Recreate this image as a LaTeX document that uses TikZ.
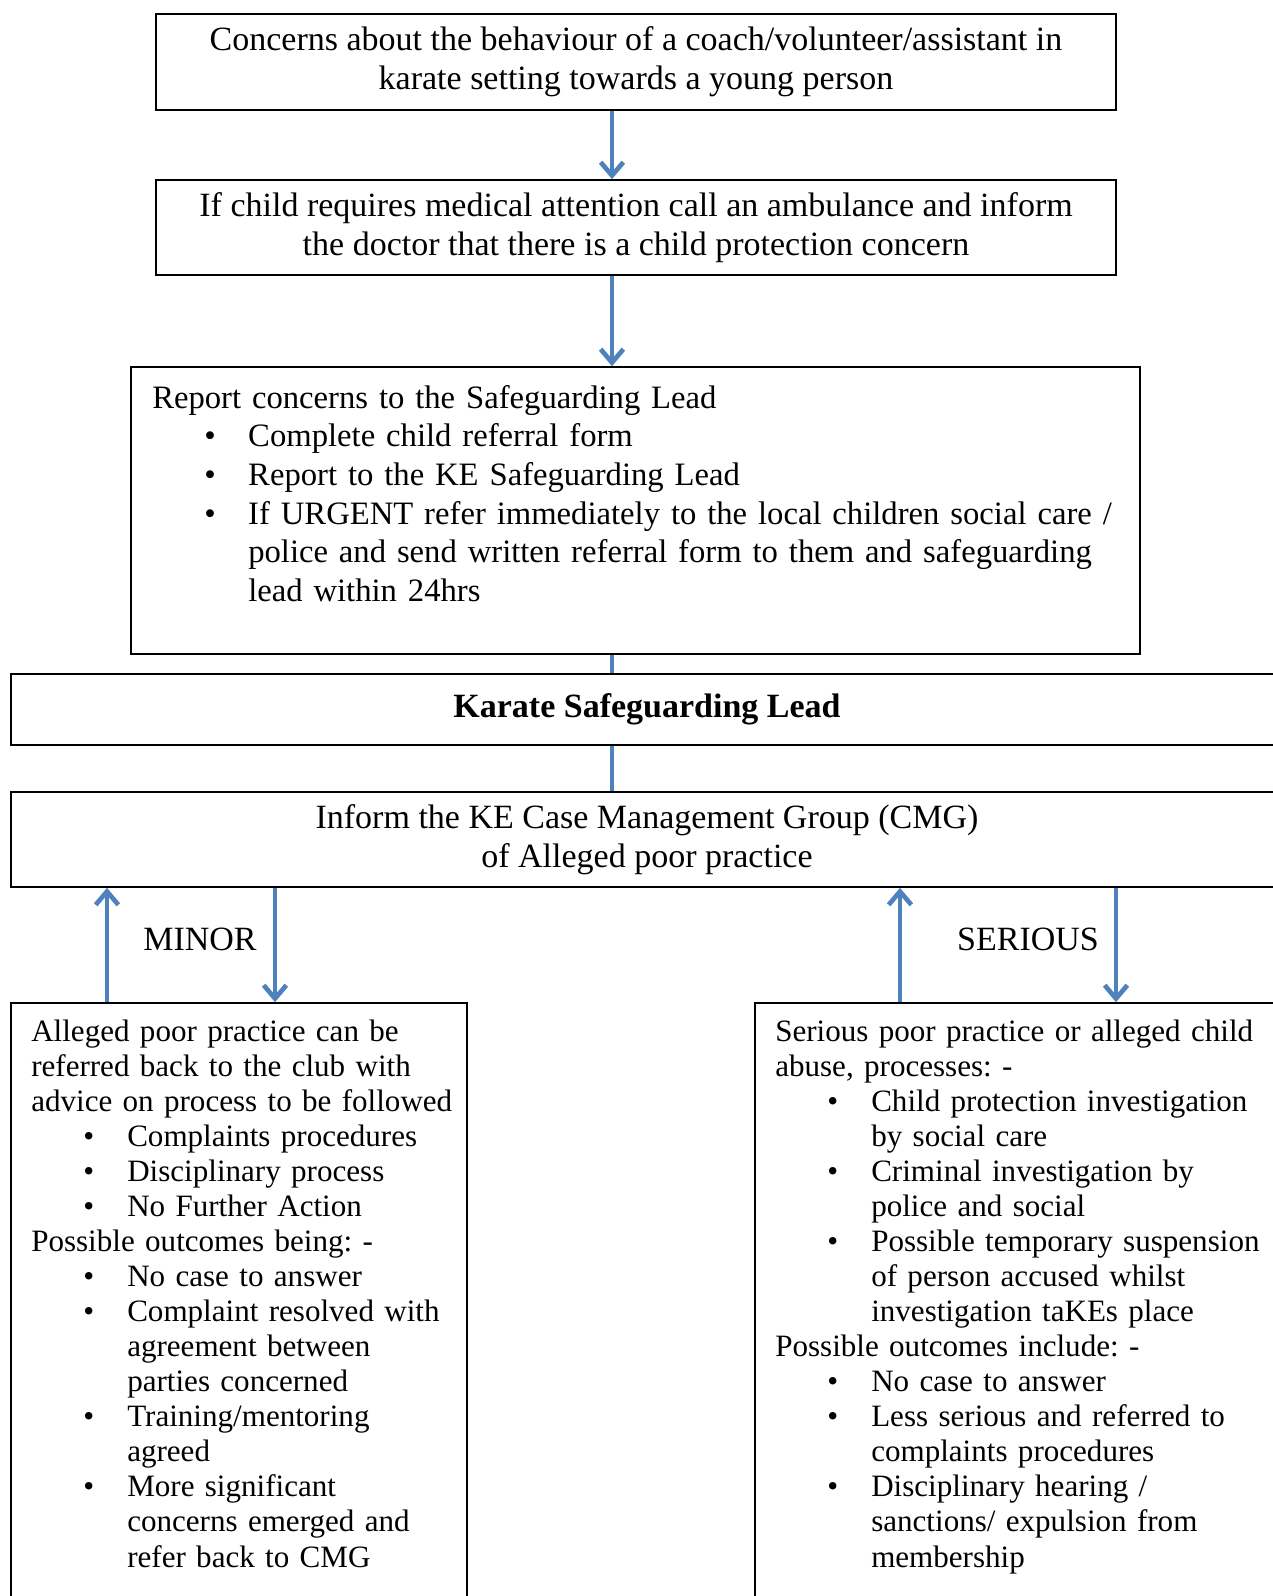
\documentclass[tikz,border=0pt]{standalone}
\usepackage{fontspec}
\setmainfont{Liberation Serif}
\usetikzlibrary{arrows.meta}
\definecolor{FlowBlue}{RGB}{79,129,189}
\frenchspacing
\newcommand{\mainsize}{\fontsize{25.5pt}{29pt}\selectfont}
\newcommand{\reportsize}{\fontsize{24.5pt}{29pt}\selectfont}
\newcommand{\listsize}{\fontsize{23.3pt}{26.3pt}\selectfont}
\newcommand{\bitem}[1]{\par\hangindent=72pt\hangafter=0\noindent\llap{\makebox[33pt][l]{\textbullet}}#1}

\begin{document}
\begin{tikzpicture}[x=0.75pt,y=-0.75pt,
  box/.style={rectangle,draw=black,line width=1.3pt,inner sep=0pt,align=center,font=\mainsize},
  txt/.style={inner sep=0pt,anchor=base west,align=left},
  flow/.style={draw=FlowBlue,line width=3.5pt,-{Straight Barb[length=10pt,width=17pt]}},
  link/.style={draw=FlowBlue,line width=3.5pt}
]
  \useasboundingbox[fill=white] (0,0) rectangle (1273,1596);
  % top of the flow
  \node[box,minimum width=720pt,minimum height=72pt] (concern) at (636,62)
    {Concerns about the behaviour of a coach/volunteer/assistant in\\karate setting towards a young person};
  \node[box,minimum width=720pt,minimum height=71.25pt] (medical) at (636,227.5)
    {If child requires medical attention call an ambulance and inform\\the doctor that there is a child protection concern};
  \node[box,minimum width=756.75pt,minimum height=215.25pt] (report) at (635.5,510.5) {};
  \node[txt,font=\reportsize,text width=760pt] (reporttext) at (152,408)
    {Report concerns to the Safeguarding Lead
     \bitem{Complete child referral form}
     \bitem{Report to the KE Safeguarding Lead}
     \bitem{If URGENT refer immediately to the local children social care /\newline
       police and send written referral form to them and safeguarding\newline
       lead within 24hrs}\par};
  \node[box,minimum width=954pt,minimum height=53.25pt] (ksl) at (647,709.5) {\textbf{Karate Safeguarding Lead}};
  \node[box,minimum width=954pt,minimum height=71.25pt] (cmg) at (647,839.5)
    {Inform the KE Case Management Group (CMG)\\of Alleged poor practice};
  % the two routes
  \node[box,minimum width=342pt,minimum height=477.75pt] (minor) at (239,1321.5) {};
  \node[box,minimum width=401.25pt,minimum height=477.75pt] (serious) at (1022.5,1321.5) {};
  \node[font=\mainsize,inner sep=0pt] (minorlbl) at (200,939) {MINOR};
  \node[font=\mainsize,inner sep=0pt] (seriouslbl) at (1028,939) {SERIOUS};
  \node[txt,font=\listsize,text width=330pt] (minortext) at (31,1041)
    {Alleged poor practice can be\newline
     referred back to the club with\newline
     advice on process to be followed
     \bitem{Complaints procedures}
     \bitem{Disciplinary process}
     \bitem{No Further Action}
     \par\noindent Possible outcomes being: -
     \bitem{No case to answer}
     \bitem{Complaint resolved with\newline agreement between\newline parties concerned}
     \bitem{Training/mentoring\newline agreed}
     \bitem{More significant\newline concerns emerged and\newline refer back to CMG}\par};
  \node[txt,font=\listsize,text width=380pt] (serioustext) at (775,1041)
    {Serious poor practice or alleged child\newline
     abuse, processes: -
     \bitem{Child protection investigation\newline by social care}
     \bitem{Criminal investigation by\newline police and social}
     \bitem{Possible temporary suspension\newline of person accused whilst\newline investigation taKEs place}
     \par\noindent Possible outcomes include: -
     \bitem{No case to answer}
     \bitem{Less serious and referred to\newline complaints procedures}
     \bitem{Disciplinary hearing /\newline sanctions/ expulsion from\newline membership}\par};
  % connectors
  \coordinate (midx) at (612,0);
  \coordinate (mnup) at (107,0);
  \coordinate (mndn) at (275,0);
  \coordinate (srup) at (900,0);
  \coordinate (srdn) at (1116,0);
  \draw[flow] (concern.south -| midx) -- (medical.north -| midx);
  \draw[flow] (medical.south -| midx) -- (report.north -| midx);
  \draw[link] (report.south -| midx) -- (ksl.north -| midx);
  \draw[link] (ksl.south -| midx) -- (cmg.north -| midx);
  \draw[flow] (minor.north -| mnup) -- (cmg.south -| mnup);
  \draw[flow] (cmg.south -| mndn) -- (minor.north -| mndn);
  \draw[flow] (serious.north -| srup) -- (cmg.south -| srup);
  \draw[flow] (cmg.south -| srdn) -- (serious.north -| srdn);
\end{tikzpicture}
\end{document}
